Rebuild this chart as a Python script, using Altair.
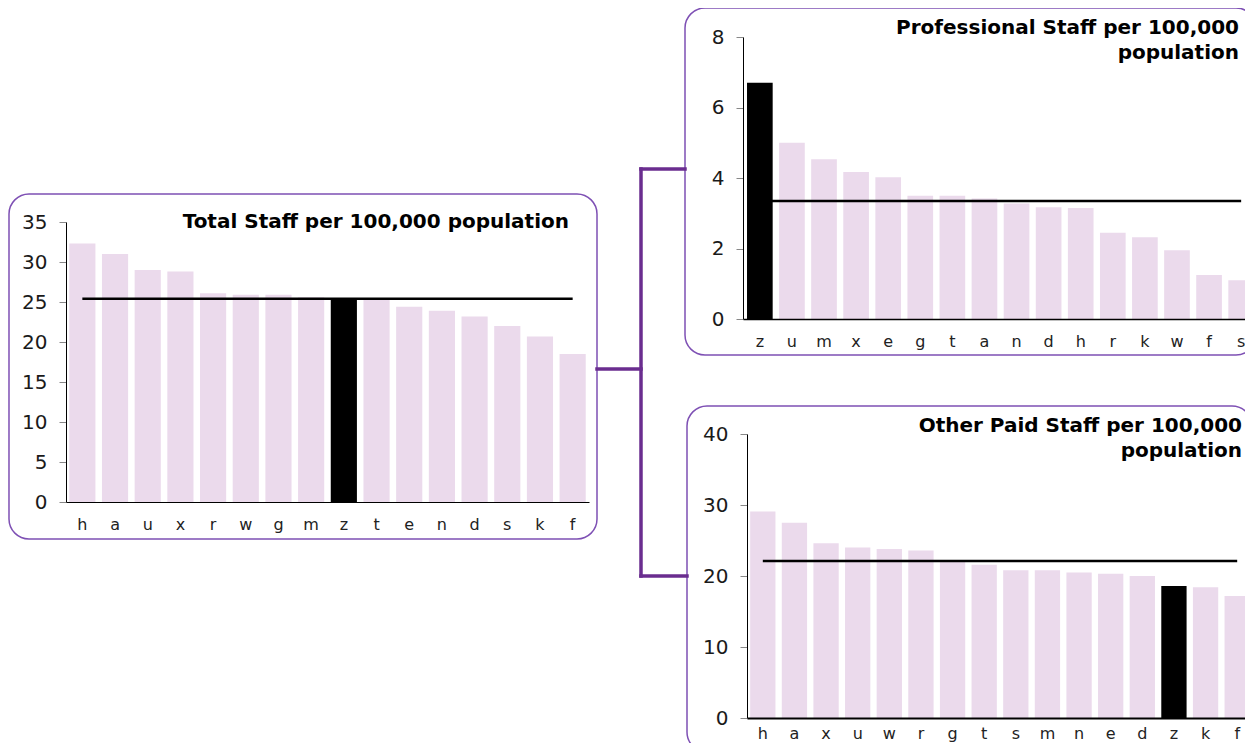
import altair as alt
import pandas as pd

# ---------------- data ----------------
total_cats = ["h", "a", "u", "x", "r", "w", "g", "m", "z", "t", "e", "n", "d", "s", "k", "f"]
total_vals = [32.3, 31.0, 29.0, 28.8, 26.1, 25.9, 25.9, 25.6, 25.4, 25.3, 24.4, 23.9, 23.2, 22.0, 20.7, 18.5]
total_avg = 25.4

prof_cats = ["z", "u", "m", "x", "e", "g", "t", "a", "n", "d", "h", "r", "k", "w", "f", "s"]
prof_vals = [6.7, 5.0, 4.53, 4.17, 4.02, 3.5, 3.5, 3.42, 3.28, 3.17, 3.15, 2.45, 2.32, 1.95, 1.25, 1.1]
prof_avg = 3.35

other_cats = ["h", "a", "x", "u", "w", "r", "g", "t", "s", "m", "n", "e", "d", "z", "k", "f"]
other_vals = [29.1, 27.5, 24.6, 24.0, 23.8, 23.6, 22.0, 21.6, 20.8, 20.8, 20.5, 20.3, 20.0, 18.6, 18.4, 17.2]
other_avg = 22.1

highlight = "z"

total_title = ["Total Staff per 100,000 population"]
prof_title = ["Professional Staff per 100,000", "population"]
other_title = ["Other Paid Staff per 100,000", "population"]

total_ticks = [0, 5, 10, 15, 20, 25, 30, 35]
prof_ticks = [0, 2, 4, 6, 8]
other_ticks = [0, 10, 20, 30, 40]

# ---------------- layout ----------------
M = 8            # page margin
W, H = 1237, 735
BAR = "#EBDAEC"
BOX = "#7E50B4"
LINK = "#6A2D8F"
FONT = "DejaVu Sans"


def px(v):
    return v - M


def panel(cats, vals, avg, xr, po, yr, ydom, yticks, yaxis_x, dom_w, lab_pad):
    df = pd.DataFrame({"cat": cats, "val": vals})
    xs = alt.Scale(domain=cats, range=[px(xr[0]), px(xr[1])], paddingInner=0.2, paddingOuter=po)
    ys = alt.Scale(domain=ydom, range=[px(yr[0]), px(yr[1])], nice=False)
    xaxis = alt.Axis(orient="bottom", offset=px(yr[0]) - H, title=None, ticks=False,
                     labelPadding=lab_pad, labelFontSize=16, labelAngle=0, labelFont=FONT,
                     labelColor="#222222", domainColor="black", domainWidth=dom_w,
                     grid=False, zindex=1)
    yaxis = alt.Axis(orient="left", offset=-px(yaxis_x), values=yticks, title=None,
                     tickSize=7, tickColor="#888888", labelPadding=12, labelFontSize=20,
                     labelFont=FONT, labelColor="#1a1a1a", domainColor="black",
                     domainWidth=1, grid=False, zindex=1)
    bars = alt.Chart(df).mark_bar().encode(
        x=alt.X("cat:N", scale=xs, axis=xaxis),
        y=alt.Y("val:Q", scale=ys, axis=yaxis),
        color=alt.condition(alt.datum.cat == highlight, alt.value("black"), alt.value(BAR)),
    )
    avgdf = pd.DataFrame({"cat": [cats[0]], "end": [cats[-1]], "val": [avg]})
    rule = alt.Chart(avgdf).mark_rule(color="black", strokeWidth=2.5).encode(
        x=alt.X("cat:N", scale=xs, axis=xaxis),
        x2="end:N",
        y=alt.Y("val:Q", scale=ys, axis=yaxis),
    )
    return alt.layer(bars, rule)


def box(x0, y0, x1, y1):
    return alt.Chart(pd.DataFrame({"k": [0]})).mark_rect(
        cornerRadius=20, fill="white", fillOpacity=0, stroke=BOX, strokeWidth=1.5
    ).encode(x=alt.value(px(x0)), x2=alt.value(px(x1)), y=alt.value(px(y0)), y2=alt.value(px(y1)))


def link(x0, y0, x1, y1):
    return alt.Chart(pd.DataFrame({"k": [0]})).mark_rule(
        color=LINK, strokeWidth=3.5, strokeCap="square"
    ).encode(x=alt.value(px(x0)), x2=alt.value(px(x1)), y=alt.value(px(y0)), y2=alt.value(px(y1)))


def label(text, x, y):
    return alt.Chart(pd.DataFrame({"t": [text]})).mark_text(
        align="right", baseline="alphabetic", fontSize=20, fontWeight="bold",
        font=FONT, color="black"
    ).encode(x=alt.value(px(x)), y=alt.value(px(y)), text="t:N")


boxes = [
    box(9, 194, 597, 539),
    box(685, 8, 1256, 355),
    box(687, 406, 1252, 752),
]
links = [
    link(597, 369, 641, 369),
    link(641, 169, 641, 576),
    link(641, 169, 685, 169),
    link(641, 576, 687, 576),
]

left = panel(total_cats, total_vals, total_avg, (66, 589), 0.1, (502, 222), [0, 35],
             total_ticks, 66, 1, 14)
top = panel(prof_cats, prof_vals, prof_avg, (743, 1258), 0.125, (319, 37), [0, 8],
            prof_ticks, 743, 1.5, 14)
bottom = panel(other_cats, other_vals, other_avg, (747, 1253), 0.1, (718, 434), [0, 40],
               other_ticks, 747, 2, 7)

titles = [
    label(total_title[0], 569, 228),
    label(prof_title[0], 1239, 34),
    label(prof_title[1], 1239, 58.5),
    label(other_title[0], 1242, 432),
    label(other_title[1], 1242, 456.5),
]

chart = alt.layer(*boxes, *links, left, top, bottom, *titles).resolve_scale(
    x="independent", y="independent"
).resolve_axis(
    x="independent", y="independent"
).properties(
    width=W, height=H, autosize=alt.AutoSizeParams(type="none"), padding=0
).configure_view(stroke=None)

chart.save("out.html", embed_options={"renderer": "svg", "actions": False})
